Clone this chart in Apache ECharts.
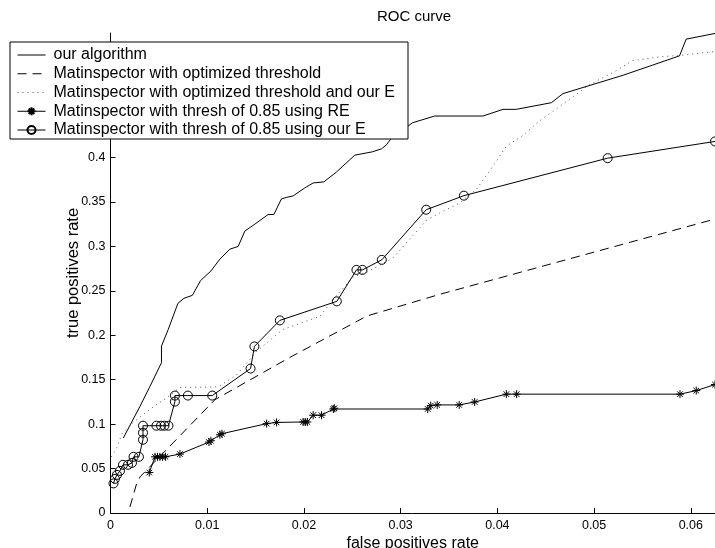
<!DOCTYPE html>
<html>
<head>
<meta charset="utf-8">
<script src="https://cdn.jsdelivr.net/npm/echarts@6/dist/echarts.min.js"></script>
<style>
  html, body { margin: 0; padding: 0; background: #fff; }
  #chart { width: 715px; height: 548px; }
</style>
</head>
<body>
<div id="chart"></div>
<script>
const seriesNames = [
    'our algorithm',
    'Matinspector with optimized threshold',
    'Matinspector with optimized threshold and our E',
    'Matinspector with thresh of 0.85 using RE',
    'Matinspector with thresh of 0.85 using our E'
];

// our algorithm
const algoX = [0.00132, 0.00305, 0.00408, 0.00527, 0.00527, 0.00597, 0.00697, 0.00759, 0.00847, 0.0093,
    0.01038, 0.01131, 0.01234, 0.0132, 0.01389, 0.01493, 0.0163, 0.01689, 0.01767, 0.01823,
    0.01888, 0.02009, 0.02095, 0.02206, 0.02337, 0.02526, 0.02707, 0.02802, 0.02853, 0.02905,
    0.03122, 0.03352, 0.03851, 0.04058, 0.04196, 0.04558, 0.04678, 0.05298, 0.05883, 0.05952, 0.0625];
const algoY = [0.0843, 0.120, 0.1425, 0.169, 0.1877, 0.2065, 0.2359, 0.2415, 0.2449, 0.2613,
    0.2723, 0.2856, 0.2968, 0.2999, 0.3172, 0.325, 0.3358, 0.3358, 0.3533, 0.3552,
    0.3567, 0.3657, 0.3713, 0.3725, 0.3837, 0.4026, 0.4063, 0.4097, 0.4142, 0.4218,
    0.439, 0.4466, 0.4466, 0.4541, 0.4541, 0.4616, 0.4718, 0.4924, 0.5143, 0.5331, 0.5395];

// optimized threshold (dashed)
const optX = [0.00201, 0.00269, 0.00305, 0.00718, 0.0108, 0.01854, 0.0265, 0.03404, 0.0625];
const optY = [0.0068, 0.0327, 0.0406, 0.0869, 0.1275, 0.175, 0.2216, 0.246, 0.3307];

// optimized threshold and our E (dotted)
const optEX = [0.0001, 0.00064, 0.00119, 0.00232, 0.00336, 0.0046, 0.00584, 0.00718, 0.01111, 0.01296,
    0.0151, 0.01782, 0.02164, 0.0234, 0.02505, 0.0265, 0.02918, 0.0327, 0.03404, 0.0361,
    0.03786, 0.0392, 0.04096, 0.04261, 0.04437, 0.04613, 0.04953, 0.05232, 0.05398, 0.05708,
    0.05883, 0.0625];
const optEY = [0.0632, 0.0734, 0.0892, 0.1016, 0.1106, 0.1208, 0.1298, 0.1411, 0.1419, 0.1546,
    0.1817, 0.2065, 0.2212, 0.2449, 0.2652, 0.2709, 0.2867, 0.3296, 0.3375, 0.3488,
    0.3646, 0.3849, 0.4131, 0.4244, 0.4413, 0.4549, 0.4819, 0.4977, 0.509, 0.5135,
    0.5147, 0.5192];

// thresh 0.85 using RE (stars)
const reX = [0.00401, 0.0046, 0.00486, 0.00511, 0.00537, 0.00568, 0.00718, 0.01018, 0.01038, 0.01131,
    0.01152, 0.01614, 0.01717, 0.01992, 0.02014, 0.02035, 0.02095, 0.02182, 0.02304, 0.02314,
    0.0328, 0.03311, 0.03378, 0.03605, 0.03765, 0.04093, 0.04199, 0.05888, 0.06056, 0.0625];
const reY = [0.0455, 0.0632, 0.0632, 0.0632, 0.0632, 0.0632, 0.0663, 0.0798, 0.0813, 0.088,
    0.0892, 0.1005, 0.1019, 0.1024, 0.1024, 0.1024, 0.11, 0.11, 0.117, 0.1179,
    0.117, 0.1208, 0.1216, 0.1216, 0.1249, 0.1337, 0.1337, 0.1337, 0.1377, 0.1445];

// thresh 0.85 using our E (circles)
const ourEX = [0.00031, 0.00046, 0.00067, 0.00098, 0.00129, 0.00181, 0.00222, 0.00238, 0.00294, 0.00336,
    0.00336, 0.00336, 0.00475, 0.00522, 0.00558, 0.00599, 0.00666, 0.00666, 0.008, 0.01052,
    0.01448, 0.01488, 0.01751, 0.0234, 0.02543, 0.02605, 0.02805, 0.03264, 0.03654, 0.0514, 0.0625];
const ourEY = [0.0333, 0.0384, 0.0429, 0.0474, 0.0542, 0.0542, 0.0564, 0.0632, 0.0632, 0.0824,
    0.0903, 0.0982, 0.0982, 0.0982, 0.0982, 0.0982, 0.1253, 0.1321, 0.1321, 0.1321,
    0.1625, 0.1874, 0.2167, 0.2381, 0.2735, 0.2735, 0.2848, 0.3412, 0.357, 0.3992, 0.418];

const zip = (xs, ys) => xs.map((x, i) => [x, ys[i]]);

const FONT = '"Liberation Sans", Arial, Helvetica, sans-serif';
const STAR = 'path://M5 0L5 10M0 5L10 5M1.5 1.5L8.5 8.5M1.5 8.5L8.5 1.5';
const noMarker = { color: 'rgba(0,0,0,0)', borderWidth: 0 };

const chart = echarts.init(document.getElementById('chart'), null, { renderer: 'canvas' });

const option = {
    animation: false,
    backgroundColor: '#fff',
    textStyle: { fontFamily: FONT, color: '#000' },
    title: {
        text: 'ROC curve',
        left: 377,
        top: 9,
        padding: 0,
        textStyle: { fontFamily: FONT, fontSize: 15, fontWeight: 'normal', color: '#000' }
    },
    legend: {
        orient: 'vertical',
        left: 10,
        top: 42,
        padding: [5, 13, 1, 7],
        itemGap: 2.75,
        itemWidth: 28,
        itemHeight: 10,
        backgroundColor: '#fff',
        borderColor: '#000',
        borderWidth: 1,
        z: 10,
        lineStyle: { width: 1 },
        textStyle: { fontFamily: FONT, fontSize: 16, color: '#000', lineHeight: 16, padding: [0, 0, 0, 3] },
        data: [
            { name: seriesNames[0], itemStyle: noMarker },
            { name: seriesNames[1], itemStyle: noMarker },
            { name: seriesNames[2], itemStyle: noMarker },
            { name: seriesNames[3] },
            { name: seriesNames[4] }
        ]
    },
    grid: { left: 110.5, right: 0, top: 33, bottom: 35, containLabel: false, outerBoundsMode: 'none' },
    xAxis: {
        type: 'value',
        min: 0,
        max: 0.0625,
        interval: 0.01,
        name: 'false positives rate',
        nameLocation: 'middle',
        nameGap: 23,
        nameMoveOverlap: false,
        nameTextStyle: { fontFamily: FONT, fontSize: 16, color: '#000' },
        axisLine: { lineStyle: { color: '#000', width: 1 } },
        axisTick: { inside: true, length: 5, lineStyle: { color: '#000' } },
        axisLabel: { showMaxLabel: false, margin: 6, fontFamily: FONT, fontSize: 12.5, color: '#000' },
        splitLine: { show: false }
    },
    yAxis: {
        type: 'value',
        min: 0,
        max: 0.54,
        interval: 0.05,
        name: 'true positives rate',
        nameLocation: 'middle',
        nameGap: 29,
        nameMoveOverlap: false,
        nameTextStyle: { fontFamily: FONT, fontSize: 16.5, color: '#000' },
        axisLine: { show: true, lineStyle: { color: '#000', width: 1 } },
        axisTick: { show: true, inside: true, length: 5, lineStyle: { color: '#000' } },
        axisLabel: { showMaxLabel: false, margin: 5, fontFamily: FONT, fontSize: 12.5, color: '#000' },
        splitLine: { show: false }
    },
    series: [
        {
            name: seriesNames[0],
            type: 'line',
            symbol: 'none',
            data: zip(algoX, algoY),
            lineStyle: { color: '#000', width: 1 },
            itemStyle: { color: '#000' }
        },
        {
            name: seriesNames[1],
            type: 'line',
            symbol: 'none',
            data: zip(optX, optY),
            lineStyle: { color: '#000', width: 1, type: [9, 6] },
            itemStyle: { color: '#000' }
        },
        {
            name: seriesNames[2],
            type: 'line',
            symbol: 'none',
            data: zip(optEX, optEY),
            lineStyle: { color: '#555', width: 1, type: [1, 4] },
            itemStyle: { color: '#555' }
        },
        {
            name: seriesNames[3],
            type: 'line',
            symbol: STAR,
            symbolSize: 8,
            symbolKeepAspect: true,
            data: zip(reX, reY),
            lineStyle: { color: '#000', width: 1 },
            itemStyle: { color: 'rgba(0,0,0,0)', borderColor: '#000', borderWidth: 1 }
        },
        {
            name: seriesNames[4],
            type: 'line',
            symbol: 'circle',
            symbolSize: 9,
            data: zip(ourEX, ourEY),
            lineStyle: { color: '#000', width: 1 },
            itemStyle: { color: 'rgba(0,0,0,0)', borderColor: '#000', borderWidth: 1 }
        }
    ]
};

chart.setOption(option);
</script>
</body>
</html>
